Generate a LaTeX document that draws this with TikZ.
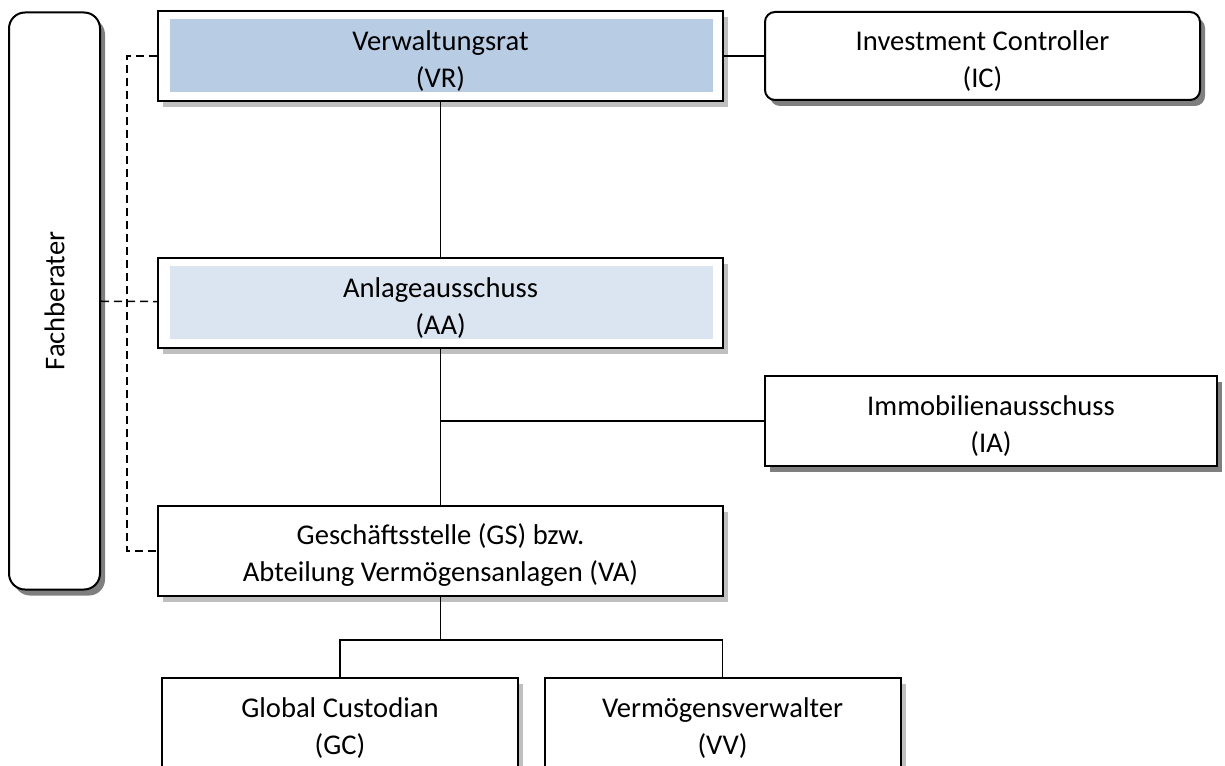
\documentclass[tikz,border=0pt]{standalone}
\usepackage{fontspec}
\setmainfont{Carlito}
\usetikzlibrary{positioning, calc, shadows}
\definecolor{vrfill}{HTML}{B8CCE4}
\definecolor{aafill}{HTML}{DBE5F1}
\definecolor{shlight}{HTML}{BFBFBF}
\definecolor{shdark}{HTML}{7F7F7F}
\tikzset{
  boxbase/.style   = {draw, rectangle, line width=1pt, fill=white, align=center,
                      inner sep=0pt, font=\fontsize{14.3pt}{18.5pt}\selectfont},
  twoline/.style   = {text height=33pt},
  litshadow/.style = {drop shadow={shadow xshift=2.5pt, shadow yshift=-3pt,
                      fill=shlight, opacity=1}},
  drkshadow/.style = {drop shadow={shadow xshift=2.5pt, shadow yshift=-3pt,
                      fill=shdark, opacity=1}},
  orgbox/.style    = {boxbase, twoline, litshadow, minimum width=282.5pt, minimum height=45pt},
  sidebox/.style   = {boxbase, drkshadow},
  tinted/.style    = {path picture={
                      \fill[#1] ($(path picture bounding box.north west)+(6pt,-4pt)$)
                        rectangle ($(path picture bounding box.south east)+(-5pt,4.5pt)$);}},
  conn/.style      = {line width=0.75pt},
  dashln/.style    = {line width=0.75pt, dash pattern=on 4pt off 2.5pt}
}

\begin{document}
\begin{tikzpicture}[x=0.5pt, y=-0.5pt]
  \useasboundingbox (0,0) rectangle (1225,765);

  % ── Main column ───────────────────────────────────────────────────────────
  \node[orgbox, tinted=vrfill]             (VR) at (440.5,56) {Verwaltungsrat\\(VR)};
  \node[orgbox, tinted=aafill, below=77.5pt of VR] (AA) {Anlageausschuss\\(AA)};
  \node[orgbox, below=78pt of AA]          (GS) {Geschäftsstelle (GS) bzw.\\Abteilung Vermögensanlagen (VA)};

  % ── Side boxes ────────────────────────────────────────────────────────────
  \node[sidebox, twoline, rounded corners=5pt, minimum width=217.5pt, minimum height=44pt,
        right=20pt of VR]                  (IC) {Investment Controller\\(IC)};
  \node[sidebox, twoline, minimum width=226pt, minimum height=45pt]
                                           (IA) at (991,421) {Immobilienausschuss\\(IA)};
  \node[sidebox, rounded corners=8pt, minimum width=45.5pt, minimum height=288.5pt]
                                           (FB) at (54.5,301) {\rotatebox{90}{Fachberater}};

  % ── Bottom row ────────────────────────────────────────────────────────────
  \node[orgbox, minimum width=178pt]       (GC) at (340,723)   {Global Custodian\\(GC)};
  \node[orgbox, minimum width=178pt]       (VV) at (722.5,723) {Vermögensverwalter\\(VV)};

  % ── Connections ───────────────────────────────────────────────────────────
  \draw[conn] (VR) -- (IC);
  \draw[conn] (VR) -- (AA);
  \draw[conn] (AA) -- (GS);
  % branch to Immobilienausschuss
  \coordinate (IAjoin) at (AA.south |- IA.west);
  \draw[conn] (IAjoin) -- (IA);
  % split below the Geschäftsstelle
  \coordinate (bus) at ($(GS.south)+(0,43)$);
  \draw[conn] (GS) -- (bus);
  \draw[conn] (GC) |- (bus) -| (VV);

  % Fachberater links (dashed)
  \coordinate (FBtop) at ($(VR.west)+(-30,0)$);
  \coordinate (FBbot) at ($(GS.west)+(-30,0)$);
  \draw[dashln] (VR.west) -- (FBtop) -- (FBbot) -- (GS.west);
  \draw[dashln] (FB) -- (AA);

\end{tikzpicture}
\end{document}
